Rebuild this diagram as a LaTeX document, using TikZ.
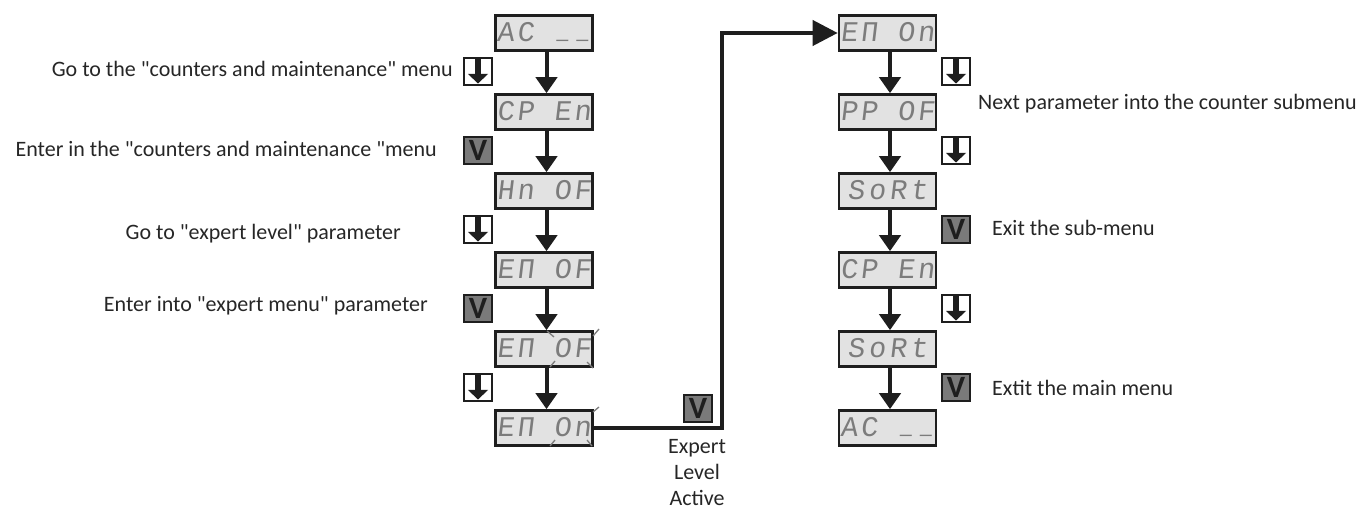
\documentclass[tikz,border=0pt]{standalone}
\usepackage{fontspec}
\setmainfont{Carlito}[Ligatures=TeXOff]
\newfontfamily\segfont[FakeSlant=0.12]{Liberation Mono}
\usetikzlibrary{arrows.meta}
\definecolor{ink}{HTML}{1E1E1E}
\definecolor{lcd}{HTML}{E2E2E2}
\definecolor{seg}{HTML}{7C7C7C}
\definecolor{vfill}{HTML}{7A7A7A}
\definecolor{txt}{HTML}{262626}
\newcommand\dsp[4]{\makebox[20pt]{#1}\makebox[20pt]{#2}\hspace{17pt}\makebox[20pt]{#3}\makebox[20pt]{#4}}
\newcommand\dspw[4]{\makebox[21pt]{#1}\makebox[21pt]{#2}\makebox[21pt]{#3}\makebox[21pt]{#4}}
\newcommand\usc{\raisebox{3pt}{\scalebox{0.7}[1]{\_}}}
\begin{document}
\begin{tikzpicture}[x=1pt,y=-1pt,
  lcdbox/.style={draw=ink, line width=2.6pt, fill=lcd, minimum width=97pt, minimum height=35pt,
    inner sep=0pt, text height=18pt, text depth=0pt,
    font=\segfont\fontsize{28.5}{28.5}\selectfont, text=seg},
  flowarrow/.style={draw=ink, line width=4pt, -{Triangle[width=21pt,length=16pt]}},
  linkarrow/.style={draw=ink, line width=4pt, -{Triangle[width=25pt,length=25pt]}},
  downicon/.style={draw=ink, line width=2pt, fill=white, minimum size=27.5pt, inner sep=0pt,
    path picture={
      \fill[ink] ([shift={(-3pt,12pt)}]path picture bounding box.center) rectangle ([shift={(3pt,-3pt)}]path picture bounding box.center);
      \fill[ink] ([shift={(-10pt,-2.5pt)}]path picture bounding box.center) -- ([shift={(10pt,-2.5pt)}]path picture bounding box.center) -- ([shift={(0pt,-12pt)}]path picture bounding box.center) -- cycle;}},
  vicon/.style={draw=ink, line width=2pt, fill=vfill, minimum size=27.5pt, inner sep=0pt,
    font=\bfseries\fontsize{31}{31}\selectfont, text=ink},
  lbl/.style={font=\fontsize{22}{26}\selectfont, text=txt, inner sep=0pt},
  blink/.style={draw=seg, line width=1.3pt}
]
\useasboundingbox (0,0) rectangle (1363,510);

% left column displays
\node[lcdbox] (L1) at (544,33)  {\dsp{A}{C}{\usc}{\usc}};
\node[lcdbox] (L2) at (544,112) {\dsp{C}{P}{E}{n}};
\node[lcdbox] (L3) at (544,191) {\dsp{H}{n}{O}{F}};
\node[lcdbox] (L4) at (544,270) {\dsp{E}{Π}{O}{F}};
\node[lcdbox] (L5) at (544,349) {\dsp{E}{Π}{O}{F}};
\node[lcdbox] (L6) at (544,428) {\dsp{E}{Π}{O}{n}};

% right column displays
\node[lcdbox] (R1) at (887.5,33)  {\dsp{E}{Π}{O}{n}};
\node[lcdbox] (R2) at (887.5,112) {\dsp{P}{P}{O}{F}};
\node[lcdbox] (R3) at (887.5,191) {\dspw{S}{o}{R}{t}};
\node[lcdbox] (R4) at (887.5,270) {\dsp{C}{P}{E}{n}};
\node[lcdbox] (R5) at (887.5,349) {\dspw{S}{o}{R}{t}};
\node[lcdbox] (R6) at (887.5,428) {\dsp{A}{C}{\usc}{\usc}};

% blinking marks
\draw[blink] (547,331) -- (554,337);
\draw[blink] (593,336) -- (599,329);
\draw[blink] (550,367) -- (555,361);
\draw[blink] (587,362) -- (593,368);
\draw[blink] (593,412) -- (599,407);
\draw[blink] (550,446) -- (555,440);
\draw[blink] (587,440) -- (592,446);

% flow arrows
\foreach \a/\b in {L1/L2,L2/L3,L3/L4,L4/L5,L5/L6,R1/R2,R2/R3,R3/R4,R4/R5,R5/R6}
  \draw[flowarrow] ([xshift=2.5pt]\a.south) -- ([xshift=2.5pt]\b.north);

% link from left to right column
\coordinate (bend) at (722,428);
\draw[linkarrow] (L6.east) -- (bend) |- (R1.west);
\node[vicon] (c1) at (698,408.5) {V};
\node[lbl, align=center] (exp) at (697,473) {Expert\\Level\\Active};

% left icons
\node[downicon] (a1) at (478,71.5) {};
\node[vicon]    (a2) at (478,150.5) {V};
\node[downicon] (a3) at (478,229.5) {};
\node[vicon]    (a4) at (478,308.5) {V};
\node[downicon] (a5) at (478,387.5) {};

% right icons
\node[downicon] (b1) at (956,71.5) {};
\node[downicon] (b2) at (956,150.5) {};
\node[vicon]    (b3) at (956,229.5) {V};
\node[downicon] (b4) at (956,308.5) {};
\node[vicon]    (b5) at (956,387.5) {V};

% labels
\node[lbl, anchor=base east] (t1) at (453,77)  {Go to the "counters and maintenance" menu};
\node[lbl, anchor=base east] (t2) at (437,157) {Enter in the "counters and maintenance "menu};
\node[lbl, anchor=base east] (t3) at (401,240) {Go to "expert level" parameter};
\node[lbl, anchor=base east] (t4) at (428,312) {Enter into "expert menu" parameter};
\node[lbl, anchor=base west] (t5) at (978,110) {Next parameter into the counter submenu};
\node[lbl, anchor=base west] (t6) at (992,236) {Exit the sub-menu};
\node[lbl, anchor=base west] (t7) at (992,396) {Extit the main menu};
\end{tikzpicture}
\end{document}
